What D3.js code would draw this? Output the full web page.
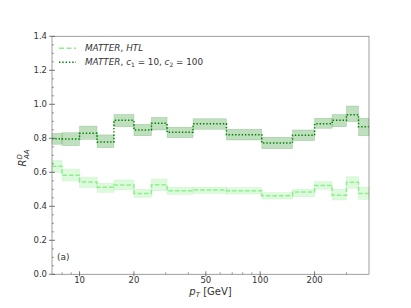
<!DOCTYPE html>
<html>
<head>
<meta charset="utf-8">
<script src="https://cdn.jsdelivr.net/npm/d3@7"></script>
<style>
  body { margin: 0; background: #fff; }
  svg text { font-family: "DejaVu Sans", sans-serif; fill: #333; }
</style>
</head>
<body>
<div id="chart"></div>
<script>
// bin edges in pT (GeV)
const binEdges = [7.04, 8, 10, 12.5, 15.5, 20, 25, 30.5, 42.5, 65, 102, 151, 200, 250, 300, 350, 400];

// MATTER, HTL (light green, dashed)
const htlMid = [0.635, 0.582, 0.543, 0.512, 0.525, 0.476, 0.527, 0.492, 0.496, 0.492, 0.462, 0.484, 0.523, 0.465, 0.541, 0.476];
const htlLo  = [0.600, 0.549, 0.510, 0.482, 0.496, 0.453, 0.492, 0.470, 0.476, 0.472, 0.443, 0.456, 0.500, 0.437, 0.506, 0.441];
const htlHi  = [0.670, 0.618, 0.571, 0.535, 0.555, 0.500, 0.561, 0.512, 0.512, 0.510, 0.480, 0.500, 0.545, 0.500, 0.574, 0.512];

// MATTER, c1 = 10, c2 = 100 (green, dotted)
const cMid = [0.797, 0.796, 0.829, 0.778, 0.906, 0.849, 0.888, 0.835, 0.885, 0.821, 0.772, 0.818, 0.886, 0.906, 0.939, 0.868];
const cLo  = [0.765, 0.757, 0.794, 0.745, 0.868, 0.815, 0.849, 0.804, 0.853, 0.790, 0.739, 0.786, 0.859, 0.868, 0.898, 0.815];
const cHi  = [0.829, 0.833, 0.872, 0.820, 0.940, 0.882, 0.923, 0.865, 0.915, 0.853, 0.806, 0.849, 0.918, 0.940, 0.990, 0.918];

const xMajor = [10, 20, 50, 100, 200];
const xMinor = [8, 9, 30, 40, 60, 70, 80, 90, 300];
const yMajor = [0, 0.2, 0.4, 0.6, 0.8, 1.0, 1.2, 1.4];

const width = 411, height = 308;
const margin = { top: 36.3, right: 42, bottom: 33.7, left: 52 };
const innerW = width - margin.left - margin.right;
const innerH = height - margin.top - margin.bottom;

const x = d3.scaleLog().domain([7.04, 400]).range([0, innerW]);
const y = d3.scaleLinear().domain([0, 1.4]).range([innerH, 0]);

const svg = d3.select("#chart").append("svg")
    .attr("width", width)
    .attr("height", height);

const g = svg.append("g").attr("transform", `translate(${margin.left},${margin.top})`);

// step bands and lines
function drawSeries(mid, lo, hi, bandFill, lineColor, dash, lw) {
    const bins = mid.map((v, i) => ({ x0: binEdges[i], x1: binEdges[i + 1], lo: lo[i], hi: hi[i] }));
    g.append("g").selectAll("rect")
        .data(bins)
        .enter()
        .append("rect")
        .attr("x", d => x(d.x0))
        .attr("width", d => x(d.x1) - x(d.x0))
        .attr("y", d => y(d.hi))
        .attr("height", d => y(d.lo) - y(d.hi))
        .attr("fill", bandFill)
        .attr("stroke", bandFill)
        .attr("stroke-width", 0.6);

    const pts = binEdges.map((e, i) => [e, mid[Math.min(i, mid.length - 1)]]);
    const line = d3.line()
        .x(d => x(d[0]))
        .y(d => y(d[1]))
        .curve(d3.curveStepAfter);
    g.append("path")
        .datum(pts)
        .attr("d", line)
        .attr("fill", "none")
        .attr("stroke", lineColor)
        .attr("stroke-width", lw)
        .attr("stroke-dasharray", dash);
}

drawSeries(cMid, cLo, cHi, "rgba(0,128,0,0.25)", "#008000", "1.4,1.9", 1.5);
drawSeries(htlMid, htlLo, htlHi, "rgba(144,238,144,0.3)", "#90ee90", "4.5,2", 1.5);

// frame
g.append("rect")
    .attr("width", innerW)
    .attr("height", innerH)
    .attr("fill", "none")
    .attr("stroke", "#888")
    .attr("stroke-width", 0.8);

// y axis ticks
const yTicks = g.append("g");
yTicks.selectAll(".ymaj")
    .data(yMajor)
    .enter()
    .append("line")
    .attr("x1", -3).attr("x2", 3)
    .attr("y1", d => y(d)).attr("y2", d => y(d))
    .attr("stroke", "#555").attr("stroke-width", 0.8);
yTicks.selectAll(".ymin")
    .data(d3.range(0.05, 1.4, 0.05).filter(v => Math.abs(v * 5 - Math.round(v * 5)) > 1e-6))
    .enter()
    .append("line")
    .attr("x1", 0).attr("x2", 2)
    .attr("y1", d => y(d)).attr("y2", d => y(d))
    .attr("stroke", "#555").attr("stroke-width", 0.6);
yTicks.selectAll("text")
    .data(yMajor)
    .enter()
    .append("text")
    .attr("x", -5)
    .attr("y", d => y(d))
    .attr("dy", "0.35em")
    .attr("text-anchor", "end")
    .style("font-size", "8.5px")
    .text(d => d.toFixed(1));

// x axis ticks
const xTicks = g.append("g").attr("transform", `translate(0,${innerH})`);
xTicks.selectAll(".xmaj")
    .data(xMajor)
    .enter()
    .append("line")
    .attr("x1", d => x(d)).attr("x2", d => x(d))
    .attr("y1", -3).attr("y2", 2)
    .attr("stroke", "#555").attr("stroke-width", 0.8);
xTicks.selectAll(".xmin")
    .data(xMinor)
    .enter()
    .append("line")
    .attr("x1", d => x(d)).attr("x2", d => x(d))
    .attr("y1", -2).attr("y2", 0)
    .attr("stroke", "#555").attr("stroke-width", 0.6);
xTicks.selectAll("text")
    .data(xMajor)
    .enter()
    .append("text")
    .attr("x", d => x(d))
    .attr("y", 8.5)
    .attr("text-anchor", "middle")
    .style("font-size", "8.5px")
    .text(d => d);

// axis labels
svg.append("text")
    .attr("x", margin.left + x(Math.sqrt(7.04 * 400)))
    .attr("y", 295)
    .attr("text-anchor", "middle")
    .style("font-size", "10px")
    .html('<tspan font-style="italic">p</tspan><tspan font-style="italic" font-size="7px" dy="2">T</tspan><tspan dy="-2"> [GeV]</tspan>');

svg.append("text")
    .attr("transform", "translate(26,158) rotate(-90)")
    .attr("text-anchor", "middle")
    .style("font-size", "10px")
    .html('<tspan font-style="italic">R</tspan><tspan font-style="italic" font-size="7px" dy="-4">D</tspan><tspan font-style="italic" font-size="7px" dx="-5" dy="7">AA</tspan>');

// panel tag
g.append("text")
    .attr("x", 5)
    .attr("y", y(0.1))
    .attr("dy", "0.35em")
    .style("font-size", "9px")
    .text("(a)");

// legend
const legend = g.append("g").attr("transform", "translate(7,12)");
legend.append("line")
    .attr("x1", 0).attr("x2", 17).attr("y1", 0).attr("y2", 0)
    .attr("stroke", "#90ee90").attr("stroke-width", 1.5).attr("stroke-dasharray", "5,2.5");
legend.append("text")
    .attr("x", 26).attr("y", 0).attr("dy", "0.35em")
    .style("font-size", "8.8px")
    .html('<tspan font-style="italic">MATTER</tspan>,<tspan dx="3" font-style="italic">HTL</tspan>');
legend.append("line")
    .attr("x1", 0).attr("x2", 17).attr("y1", 14).attr("y2", 14)
    .attr("stroke", "#008000").attr("stroke-width", 1.5).attr("stroke-dasharray", "1.4,1.9");
legend.append("text")
    .attr("x", 26).attr("y", 14).attr("dy", "0.35em")
    .style("font-size", "8.8px")
    .html('<tspan font-style="italic">MATTER</tspan>,<tspan dx="3" font-style="italic">c</tspan><tspan font-size="6px" dy="2">1</tspan><tspan dy="-2"> = 10, </tspan><tspan font-style="italic">c</tspan><tspan font-size="6px" dy="2">2</tspan><tspan dy="-2"> = 100</tspan>');
</script>
</body>
</html>
